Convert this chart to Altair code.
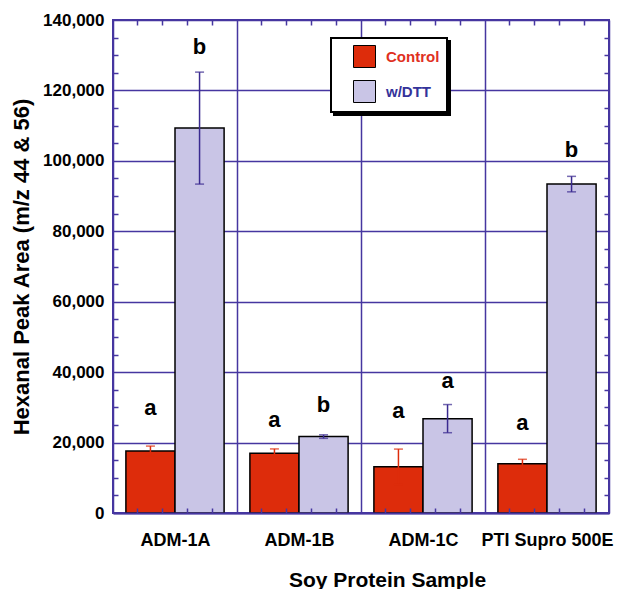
import altair as alt
import pandas as pd

# ---- data ----
samples = ["ADM-1A", "ADM-1B", "ADM-1C", "PTI Supro 500E"]
groups = ["Control", "w/DTT"]
control_mean = [17600, 16950, 13150, 14000]
control_err = [1400, 1250, 5000, 1250]
dtt_mean = [109300, 21700, 26800, 93400]
dtt_err = [15900, 500, 4000, 2200]
control_letter = ["a", "a", "a", "a"]
dtt_letter = ["b", "b", "a", "b"]
control_label_y = [29800, 26400, 29000, 25600]
dtt_label_y = [132300, 30700, 37500, 103100]
y_ticks = [0, 20000, 40000, 60000, 80000, 100000, 120000, 140000]
y_minor = [v for v in range(5000, 140000, 5000) if v % 20000 != 0]

rows = []
for i, s in enumerate(samples):
    rows.append(dict(sample=s, group="Control", mean=control_mean[i], err=control_err[i],
                     letter=control_letter[i], label_y=control_label_y[i]))
    rows.append(dict(sample=s, group="w/DTT", mean=dtt_mean[i], err=dtt_err[i],
                     letter=dtt_letter[i], label_y=dtt_label_y[i]))
df = pd.DataFrame(rows)
df["lo"] = df["mean"] - df["err"]
df["hi"] = df["mean"] + df["err"]

# ---- styling ----
W, H = 496, 493
PURPLE = "#4636a0"
ERR_PURPLE = "#3a2a90"
RED = "#dd2c0b"
LAV = "#c9c5e6"
FONT = "Liberation Sans"

xscale = alt.Scale(paddingInner=0, paddingOuter=0)
yscale = alt.Scale(domain=[0, 140000], nice=False)
xoff = alt.XOffset("group:N", sort=groups,
                   scale=alt.Scale(paddingInner=0, paddingOuter=0.2626))


def xenc(axis):
    return alt.X("sample:N", sort=samples, scale=xscale, axis=axis)


def minor_x(orient, band, domain=False):
    return alt.Axis(orient=orient, offset=-H, bandPosition=band, labels=False,
                    ticks=True, tickSize=5, tickColor=PURPLE, tickWidth=1.5,
                    domain=domain, domainColor=PURPLE, domainWidth=2,
                    grid=False, title=None, zindex=1)


def minor_y(orient):
    return alt.Axis(orient=orient, offset=-W, values=y_minor, labels=False,
                    ticks=True, tickSize=5, tickColor=PURPLE, tickWidth=1.5,
                    domain=False, grid=False, title=None, zindex=1)


main_x = alt.Axis(orient="bottom", title="Soy Protein Sample", titleFont=FONT,
                  titleFontSize=21, titleFontWeight="bold", titleColor="black",
                  titleX=274, titleY=73, titleBaseline="alphabetic", titleAlign="center",
                  labelAngle=0, labelFont=FONT, labelFontSize=18, labelFontWeight="bold",
                  labelColor="black", labelPadding=18, ticks=False, domain=False,
                  grid=True, gridColor=PURPLE, gridWidth=1.5, gridOpacity=1,
                  tickBand="extent", zindex=0)

main_y = alt.Axis(orient="left", title="Hexanal Peak Area (m/z 44 & 56)", titleFont=FONT,
                  titleFontSize=22, titleFontWeight="bold", titleColor="black",
                  titlePadding=9, labelFont=FONT, labelFontSize=17, labelFontWeight="bold",
                  labelColor="black", labelPadding=9, ticks=False, tickSize=0,
                  format=",d", values=y_ticks, domain=False, grid=True,
                  gridColor=PURPLE, gridWidth=1.5, gridOpacity=1, zindex=0)

legend_common = dict(orient="none", title=None, symbolType="square", symbolSize=484,
                     symbolStrokeWidth=1, symbolOffset=15, labelOffset=10,
                     labelFont=FONT, labelFontSize=15, labelFontWeight="bold",
                     padding=7, rowPadding=8)

legend = alt.Legend(legendX=218, legendY=18, symbolStrokeColor="black",
                    labelColor={"expr": "datum.label == 'Control' ? '#e0301e' : '#34339a'"},
                    fillColor="white", strokeColor="black", zindex=2, **legend_common)

# drop shadow of the legend box
shadow_legend = alt.Legend(legendX=221, legendY=21, symbolStrokeColor="black",
                           symbolFillColor="black", labelColor="black",
                           fillColor="black", strokeColor="black", zindex=1,
                           **legend_common)

err_color = alt.condition("datum.group == 'Control'", alt.value(RED), alt.value(ERR_PURPLE))

base = alt.Chart(df)

bars = base.mark_bar(stroke="black", strokeWidth=1.5).encode(
    x=xenc(main_x), xOffset=xoff,
    y=alt.Y("mean:Q", scale=yscale, axis=main_y),
    color=alt.Color("group:N", sort=groups,
                    scale=alt.Scale(domain=groups, range=[RED, LAV]), legend=legend),
)

err = base.mark_rule(strokeWidth=1.5).encode(
    x=xenc(minor_x("top", 0.2, domain=True)), xOffset=xoff,
    y=alt.Y("lo:Q", scale=yscale, axis=minor_y("right")), y2="hi:Q",
    color=err_color,
)

cap_hi = base.mark_tick(size=9, thickness=1.5).encode(
    x=xenc(minor_x("top", 0.4)), xOffset=xoff,
    y=alt.Y("hi:Q", scale=yscale, axis=minor_y("left")),
    color=err_color,
)

cap_lo = base.mark_tick(size=9, thickness=1.5).encode(
    x=xenc(minor_x("top", 0.6)), xOffset=xoff,
    y=alt.Y("lo:Q", scale=yscale, axis=None),
    color=err_color,
)

letters = base.mark_text(font=FONT, fontSize=22, fontWeight="bold", color="black",
                         baseline="middle").encode(
    x=xenc(minor_x("top", 0.8)), xOffset=xoff,
    y=alt.Y("label_y:Q", scale=yscale, axis=None),
    text="letter:N",
)

dummies = []
for k, b in enumerate([0.2, 0.4, 0.6, 0.8]):
    enc = dict(x=xenc(minor_x("bottom", b)),
               y=alt.Y("mean:Q", scale=yscale, axis=None))
    layer = base.mark_point(opacity=0)
    if k == 0:
        layer = layer.transform_calculate(shadow_key="datum.group")
        enc["shape"] = alt.Shape("shadow_key:N", sort=groups, legend=shadow_legend)
    dummies.append(layer.encode(**enc))

chart = alt.layer(bars, err, cap_hi, cap_lo, letters, *dummies).resolve_axis(
    x="independent", y="independent"
).resolve_legend(color="independent", shape="independent").properties(
    width=W, height=H,
    padding={"left": 105, "top": 12, "right": 15, "bottom": 76},
    autosize=alt.AutoSizeParams(type="none"),
).configure_view(stroke=PURPLE, strokeWidth=2).configure_legend(strokeWidth=2)

chart.save("out.html", embed_options={"renderer": "svg", "actions": False})
